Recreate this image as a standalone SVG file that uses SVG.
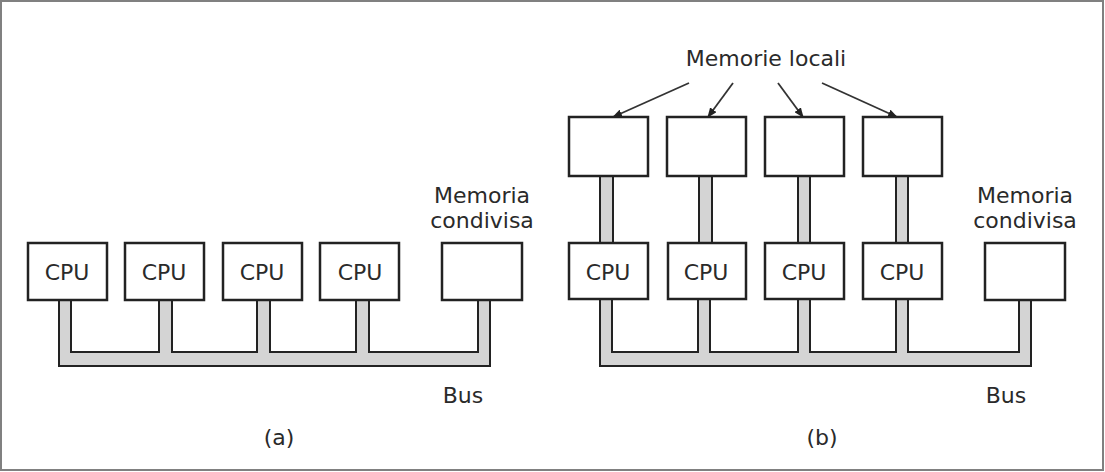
<svg xmlns="http://www.w3.org/2000/svg" width="1105" height="472" viewBox="0 0 1105 472">
<defs>
<style>
.box{fill:#fff;stroke:#222;stroke-width:2.5}
.bus{fill:#d4d4d4;stroke:#222;stroke-width:2;stroke-linejoin:miter}
.lbl{font-family:"DejaVu Sans","Liberation Sans",sans-serif;font-size:22px;fill:#2a2a2a;text-anchor:middle}
.arr{stroke:#333;stroke-width:1.8;fill:none;marker-end:url(#ah)}
</style>
<marker id="ah" markerWidth="10" markerHeight="8" refX="9" refY="4" orient="auto" markerUnits="userSpaceOnUse">
<path d="M0,0 L10,4 L0,8 Z" fill="#222"/>
</marker>
</defs>
<rect x="0" y="0" width="1105" height="472" fill="#fff"/>
<rect x="1" y="1" width="1102" height="469" fill="none" stroke="#808080" stroke-width="2"/>

<g id="connectors">
<path class="bus" d="M59,300 L59,366 L490,366 L490,300 L478,300 L478,352 L369,352 L369,300 L356,300 L356,352 L270,352 L270,300 L257,300 L257,352 L172,352 L172,300 L159,300 L159,352 L71,352 L71,300 Z"/>
<path class="bus" d="M600,299 L600,366 L1031,366 L1031,299 L1019,299 L1019,352 L908,352 L908,299 L896,299 L896,352 L810,352 L810,299 L798,299 L798,352 L710,352 L710,299 L698,299 L698,352 L612,352 L612,299 Z"/>
<rect class="bus" x="600" y="176" width="13" height="67"/>
<rect class="bus" x="699" y="176" width="13" height="67"/>
<rect class="bus" x="798" y="176" width="12" height="67"/>
<rect class="bus" x="896" y="176" width="12" height="67"/>
<line class="arr" x1="689" y1="83" x2="613" y2="117"/>
<line class="arr" x1="733" y1="83" x2="708" y2="117"/>
<line class="arr" x1="778" y1="83" x2="803" y2="117"/>
<line class="arr" x1="822" y1="83" x2="897" y2="117"/>
</g>

<g id="a-cpu1"><rect class="box" x="28" y="243" width="79" height="57"/><text class="lbl" x="67" y="280">CPU</text></g>
<g id="a-cpu2"><rect class="box" x="125" y="243" width="79" height="57"/><text class="lbl" x="164" y="280">CPU</text></g>
<g id="a-cpu3"><rect class="box" x="223" y="243" width="79" height="57"/><text class="lbl" x="262" y="280">CPU</text></g>
<g id="a-cpu4"><rect class="box" x="320" y="243" width="79" height="57"/><text class="lbl" x="360" y="280">CPU</text></g>
<g id="a-mem"><rect class="box" x="442" y="243" width="80" height="57"/><text class="lbl" x="482" y="203">Memoria</text><text class="lbl" x="482" y="228">condivisa</text></g>
<g id="a-bus-label"><text class="lbl" x="463" y="403">Bus</text></g>
<g id="a-caption"><text class="lbl" x="279" y="445">(a)</text></g>

<g id="b-loc-label"><text class="lbl" x="766" y="66">Memorie locali</text></g>
<g id="b-loc1"><rect class="box" x="569" y="117" width="79" height="59"/></g>
<g id="b-loc2"><rect class="box" x="667" y="117" width="79" height="59"/></g>
<g id="b-loc3"><rect class="box" x="765" y="117" width="79" height="59"/></g>
<g id="b-loc4"><rect class="box" x="863" y="117" width="79" height="59"/></g>
<g id="b-cpu1"><rect class="box" x="569" y="243" width="79" height="56"/><text class="lbl" x="608" y="280">CPU</text></g>
<g id="b-cpu2"><rect class="box" x="668" y="243" width="78" height="56"/><text class="lbl" x="706" y="280">CPU</text></g>
<g id="b-cpu3"><rect class="box" x="765" y="243" width="79" height="56"/><text class="lbl" x="804" y="280">CPU</text></g>
<g id="b-cpu4"><rect class="box" x="863" y="243" width="79" height="56"/><text class="lbl" x="902" y="280">CPU</text></g>
<g id="b-mem"><rect class="box" x="985" y="243" width="80" height="57"/><text class="lbl" x="1025" y="203">Memoria</text><text class="lbl" x="1025" y="228">condivisa</text></g>
<g id="b-bus-label"><text class="lbl" x="1006" y="403">Bus</text></g>
<g id="b-caption"><text class="lbl" x="822" y="445">(b)</text></g>
</svg>
